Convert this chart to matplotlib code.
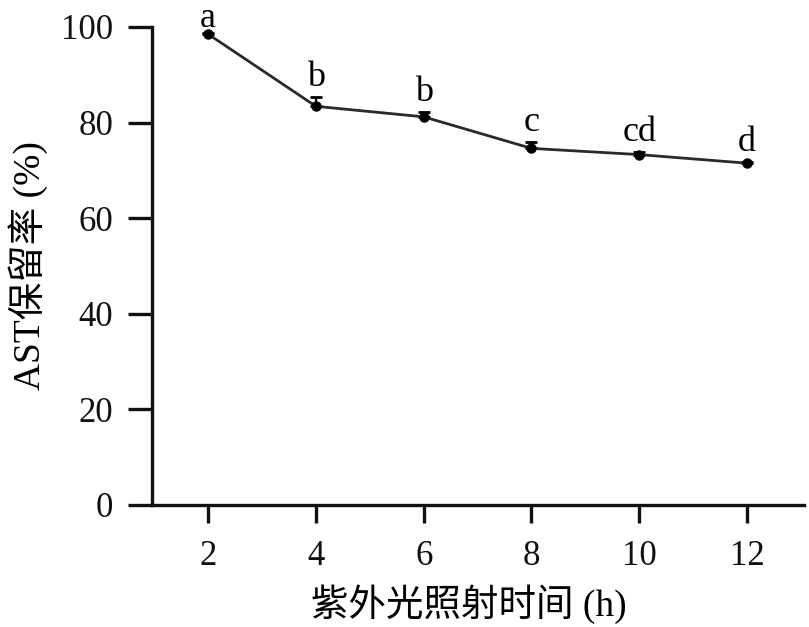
import matplotlib
matplotlib.use("Agg")
import matplotlib.pyplot as plt
import numpy as np

plt.rcParams["font.family"] = ["Liberation Serif", "Noto Sans CJK SC"]

# data
hours = [2, 4, 6, 8, 10, 12]
retention = [98.5, 83.4, 81.2, 74.6, 73.3, 71.5]
err_up = [0.3, 2.0, 1.0, 1.4, 0.6, 0.3]
letters = ["a", "b", "b", "c", "cd", "d"]
y_ticks = [0, 20, 40, 60, 80, 100]

fig = plt.figure(figsize=(8.09, 6.27), dpi=100)
ax = fig.add_axes([0.188, 0.1946, 0.806, 0.7624])

ax.errorbar(hours, retention, yerr=[np.zeros(len(err_up)), err_up],
            fmt="none", ecolor="black", elinewidth=1.6, capsize=4.5,
            capthick=2.0, zorder=2)
ax.plot(hours, retention, color="#2a2a2a", lw=2.0, marker="o",
        markersize=6.5, markerfacecolor="black", markeredgecolor="black",
        zorder=3)

# significance letters above each point (top one squeezed to stay in frame)
for x, y, e, s in zip(hours, retention, err_up, letters):
    dy = 6 if y + e > 95 else 11
    ax.annotate(s, (x, y + e), xytext=(0, dy), textcoords="offset pixels",
                ha="center", va="baseline", fontsize=26)

ax.set_xlim(0.96, 13.06)
ax.set_ylim(0, 100)
ax.set_xticks(hours)
ax.set_yticks(y_ticks)

for side in ["top", "right"]:
    ax.spines[side].set_visible(False)
for side in ["left", "bottom"]:
    ax.spines[side].set_linewidth(2.4)
    ax.spines[side].set_color("#111111")

ax.tick_params(axis="y", direction="out", length=17, width=2.4,
               pad=11, labelsize=25, colors="#111111")
ax.tick_params(axis="x", direction="out", length=13, width=2.4,
               pad=12, labelsize=25, colors="#111111")

ax.set_xlabel("紫外光照射时间 (h)", fontsize=27)
ax.set_ylabel("AST保留率 (%)", fontsize=27)
ax.xaxis.set_label_coords(0.485, -0.165)
ax.yaxis.set_label_coords(-0.16, 0.5)

fig.savefig("out.png", dpi=100)
